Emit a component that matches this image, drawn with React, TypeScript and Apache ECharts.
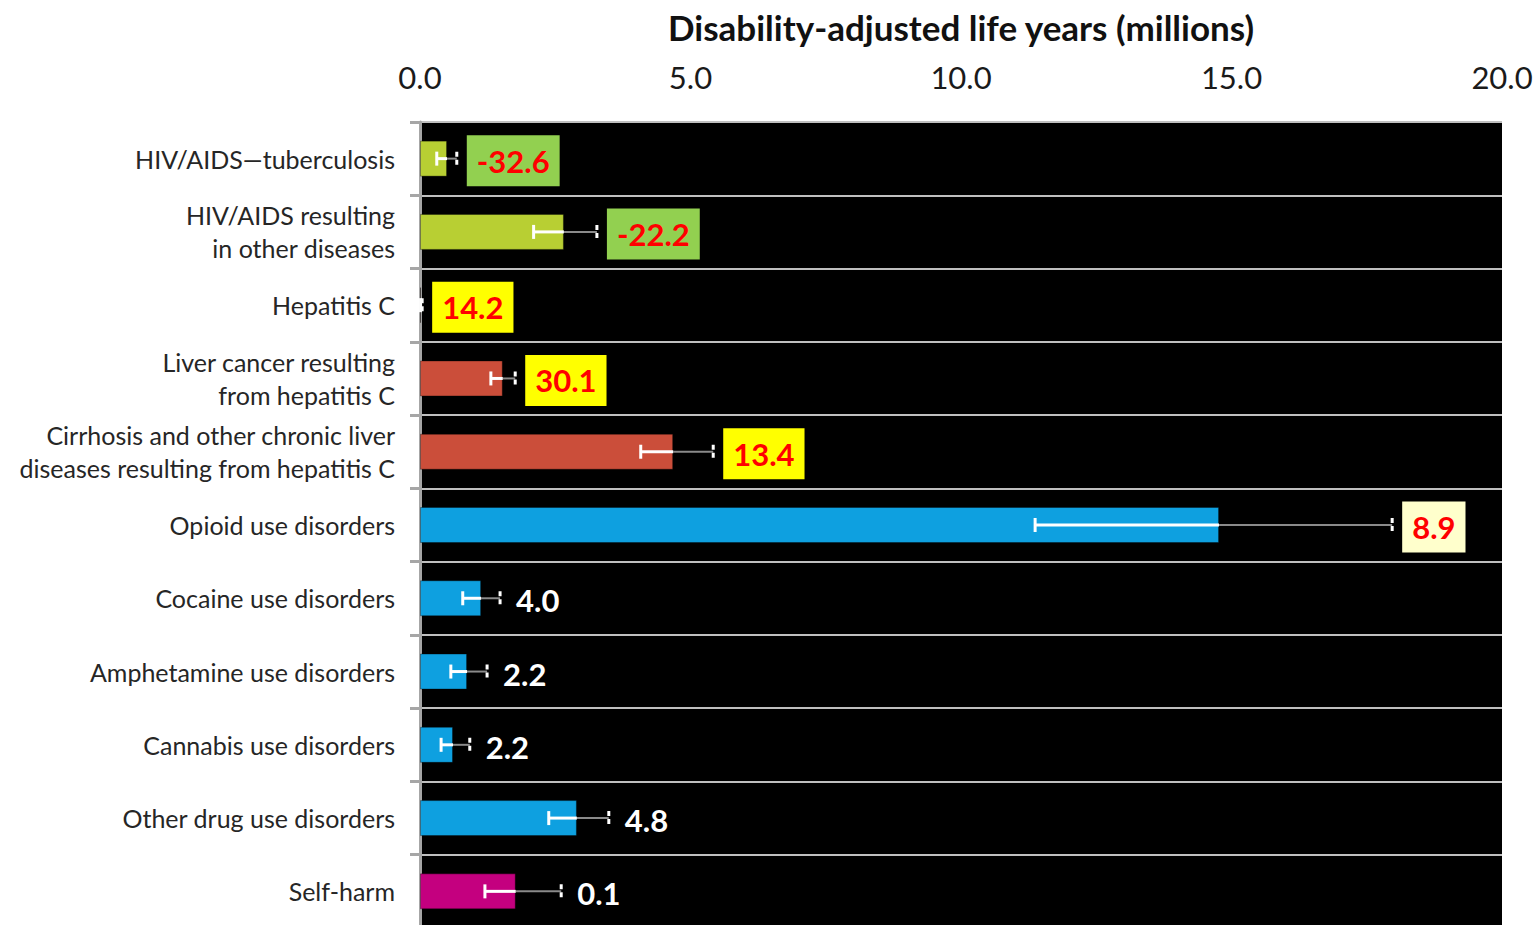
import React, { useEffect, useRef } from "react";
import * as echarts from "echarts";

const categories = [
  "HIV/AIDS\u2014tuberculosis",
  "HIV/AIDS resulting\nin other diseases",
  "Hepatitis C",
  "Liver cancer resulting\nfrom hepatitis C",
  "Cirrhosis and other chronic liver\ndiseases resulting from hepatitis C",
  "Opioid use disorders",
  "Cocaine use disorders",
  "Amphetamine use disorders",
  "Cannabis use disorders",
  "Other drug use disorders",
  "Self-harm",
];
const dalys = [0.5, 2.66, 0.02, 1.53, 4.68, 14.77, 1.13, 0.87, 0.61, 2.9, 1.77];
const lower = [0.31, 2.1, 0.01, 1.31, 4.08, 11.37, 0.79, 0.57, 0.39, 2.38, 1.2];
const upper = [0.68, 3.27, 0.04, 1.76, 5.42, 17.97, 1.48, 1.24, 0.92, 3.49, 2.61];
const pctChange = ["-32.6", "-22.2", "14.2", "30.1", "13.4", "8.9", "4.0", "2.2", "2.2", "4.8", "0.1"];
const groups = ["hiv", "hiv", "hep", "hep", "hep", "drug", "drug", "drug", "drug", "drug", "harm"];
const labelKinds = ["green", "green", "yellow", "yellow", "yellow", "pale", "plain", "plain", "plain", "plain", "plain"];
const xTicks = [0, 5, 10, 15, 20];

const groupColors: Record<string, string> = {
  hiv: "#B8CF33",
  hep: "#CB4E3A",
  drug: "#0EA0E0",
  harm: "#C4007F",
};
const labelBg: Record<string, string | undefined> = {
  green: "#92D050",
  yellow: "#FFFF00",
  pale: "#FFFFCC",
  plain: undefined,
};

export default function App() {
  const ref = useRef<HTMLDivElement>(null);
  useEffect(() => {
    if (!ref.current) return;
    const chart = echarts.init(ref.current, undefined, { renderer: "svg" });
    const font = "Lato";
    const option: any = {
      animation: false,
      backgroundColor: "#ffffff",
      grid: {
        left: 420,
        top: 122,
        width: 1082,
        height: 806,
        outerBoundsMode: "none",
        containLabel: false,
        show: true,
        backgroundColor: "#000000",
        borderWidth: 0,
      },
      xAxis: {
        type: "value",
        position: "top",
        min: xTicks[0],
        max: xTicks[xTicks.length - 1],
        interval: 5,
        axisLine: { show: false },
        axisTick: { show: false },
        splitLine: { show: false },
        axisLabel: {
          formatter: (v: number) => v.toFixed(1),
          fontSize: 31,
          fontFamily: font,
          color: "#1a1a1a",
          margin: 30,
        },
        name: "Disability-adjusted life years (millions)",
        nameLocation: "middle",
        nameGap: 78,
        nameTextStyle: { fontSize: 35, fontWeight: "bold", fontFamily: font, color: "#111" },
      },
      yAxis: {
        type: "category",
        data: categories,
        inverse: true,
        axisLine: { show: true, lineStyle: { color: "#a6a6a6", width: 3 } },
        axisTick: { show: true, length: 10, lineStyle: { color: "#a6a6a6", width: 3 } },
        splitLine: { show: true, lineStyle: { color: "#bfbfbf", width: 2 } },
        axisLabel: {
          fontSize: 25,
          fontFamily: font,
          color: "#262626",
          lineHeight: 33,
          margin: 25,
        },
      },
      series: [
        {
          type: "bar",
          barWidth: 36,
          data: dalys.map((v, i) => ({
            value: v,
            itemStyle: { color: groupColors[groups[i]], borderColor: "rgba(0,0,0,0.35)", borderWidth: 1 },
          })),
          z: 2,
        },
        {
          type: "custom",
          z: 3,
          clip: false,
          encode: { x: [1, 2, 3], y: 0 },
          data: categories.map((_, i) => [i, lower[i], dalys[i], upper[i]]),
          renderItem: (params: any, api: any) => {
            const idx = api.value(0);
            const pL = api.coord([api.value(1), idx]);
            const pV = api.coord([api.value(2), idx]);
            const pH = api.coord([api.value(3), idx]);
            const y = pL[1];
            const h = 7;
            return {
              type: "group",
              children: [
                { type: "line", shape: { x1: pV[0], y1: y, x2: pH[0], y2: y }, style: { stroke: "#8a8a8a", lineWidth: 2 } },
                { type: "line", shape: { x1: pL[0], y1: y, x2: pV[0], y2: y }, style: { stroke: "#ffffff", lineWidth: 3 } },
                { type: "line", shape: { x1: pL[0], y1: y - h, x2: pL[0], y2: y + h }, style: { stroke: "#ffffff", lineWidth: 3 } },
                {
                  type: "line",
                  shape: { x1: pH[0], y1: y - h, x2: pH[0], y2: y + h },
                  style: { stroke: "#ffffff", lineWidth: 3, lineDash: [5, 3] },
                },
              ],
            };
          },
        },
        {
          type: "custom",
          z: 4,
          clip: false,
          encode: { x: 1, y: 0 },
          data: categories.map((_, i) => [i, upper[i]]),
          renderItem: (params: any, api: any) => {
            const i = params.dataIndex;
            const p = api.coord([api.value(1), api.value(0)]);
            const kind = labelKinds[i];
            const bg = labelBg[kind];
            const style: any = {
              text: pctChange[i],
              x: p[0] + (bg ? 10 : 16),
              y: p[1] + 2,
              fill: bg ? "#FF0000" : "#ffffff",
              font: `bold 31px ${font}`,
              align: "left",
              verticalAlign: "middle",
            };
            if (bg) {
              style.backgroundColor = bg;
              style.padding = [11, 10, 9, 10];
              style.borderColor = "rgba(0,0,0,0.3)";
              style.borderWidth = 1;
            }
            return { type: "text", style };
          },
        },
      ],
    };
    chart.setOption(option);
    return () => chart.dispose();
  }, []);
  return (
    <div
      ref={ref}
      style={{ position: "fixed", left: 0, top: 0, width: 1539, height: 925 }}
    />
  );
}
